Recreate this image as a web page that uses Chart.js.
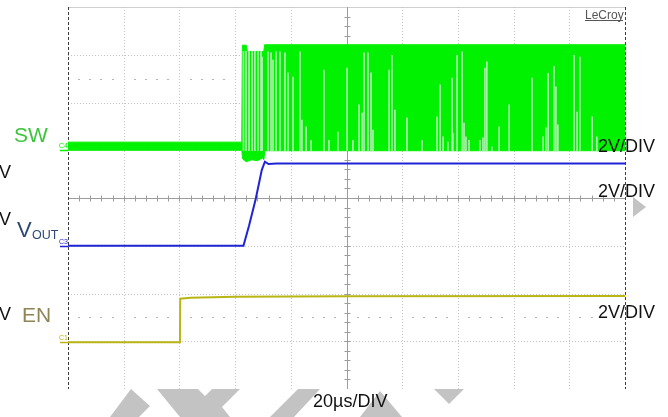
<!DOCTYPE html>
<html>
<head>
<meta charset="utf-8">
<title>SW / VOUT / EN start-up</title>
<script src="https://cdn.jsdelivr.net/npm/chart.js@4.4.0/dist/chart.umd.min.js"></script>
<style>
  html, body { margin: 0; padding: 0; background: #fff; }
  canvas { display: block; }
</style>
</head>
<body>
<canvas id="scopeChart" width="668" height="417"></canvas>
<script>
// time axis in µs (20 µs/div x 10 div), levels in screen divisions (8 div, 0 = bottom)
const timeDivLabel = "20µs/DIV";
const voltDivLabels = ["2V/DIV", "2V/DIV", "2V/DIV"];
const channelNames = ["SW", "V", "OUT", "EN"];
const channelTags = ["C4", "C3", "C1"];
const channelZero = [5.0, 3.0, 0.98];

// SW switching node: envelope of the trace
const swUpperTime = [0, 62.4, 62.6, 64.0, 64.4, 70.3, 70.6, 200];
const swUpperDiv = [5.17, 5.17, 7.2, 7.2, 7.07, 7.07, 7.21, 7.21];
const swLowerTime = [0, 62.4, 62.7, 64.0, 66.0, 68.0, 69.8, 70.3, 70.7, 200];
const swLowerDiv = [5.0, 5.0, 4.82, 4.76, 4.8, 4.78, 4.84, 4.8, 4.99, 4.99];

// lighter gaps inside the SW burst
const swStreakTime = [63.0, 63.9, 65.0, 66.1, 67.1, 68.2, 69.3, 69.7, 71.8, 72.9, 73.6, 74.7, 76.1, 77.9, 79.0,
  80.8, 83.3, 84.0, 85.5, 87.3, 91.9, 93.7, 96.9, 100.2, 102.3, 104.5, 105.6, 106.3, 107.7, 108.8, 109.5,
  115.3, 116.3, 117.4, 121.7, 127.1, 132.5, 133.6, 134.7, 136.4, 137.9, 138.2, 139.7, 141.5, 142.2, 142.9,
  144.0, 147.9, 149.0, 149.7, 150.4, 152.2, 154.8, 158.4, 166.6, 170.6, 171.6, 172.4, 174.5, 175.2, 175.9,
  181.7, 182.8, 183.8, 188.2, 189.9];
const swStreakTop = [7.07, 7.07, 7.07, 7.07, 7.07, 7.07, 7.07, 6.95, 7.06, 7.04, 6.89, 7.06, 7.06, 7.04, 6.62,
  6.53, 7.06, 5.63, 5.49, 5.21, 6.68, 5.21, 5.38, 6.72, 5.21, 5.95, 5.78, 7.04, 7.04, 6.62, 5.42,
  6.68, 6.99, 5.84, 5.68, 5.21, 5.7, 6.37, 5.28, 5.17, 6.51, 5.36, 6.99, 7.06, 5.57, 5.28,
  5.21, 5.21, 5.26, 6.72, 6.85, 5.07, 5.49, 5.95, 6.51, 5.28, 5.47, 6.61, 6.76, 6.33, 5.53,
  6.99, 5.8, 6.95, 5.7, 5.28];
const swStreakBase = 4.99;

// VOUT
const voutTime = [0, 63.0, 65.0, 67.4, 69.6, 70.7, 72.0, 75.0, 200];
const voutDiv = [3.0, 3.0, 3.42, 3.98, 4.59, 4.76, 4.71, 4.72, 4.72];

// EN
const enTime = [0, 40.2, 40.3, 44, 60, 100, 200];
const enDiv = [0.98, 0.98, 1.89, 1.91, 1.93, 1.94, 1.95];

const swColor = "rgb(0, 242, 0)";
const streakColor = "rgba(190, 240, 190, 0.9)";
const voutColor = "#1f24d6";
const enColor = "#b8b515";
const FONT = "'Liberation Sans', Arial, sans-serif";

const toPoints = (xs, ys) => xs.map((t, i) => ({ x: t, y: ys[i] }));

const scopeGrid = {
  id: "scopeGrid",
  beforeDraw(chart) {
    const { ctx } = chart;
    // grey watermark pieces below and right of the screen
    ctx.save();
    ctx.fillStyle = "#c3c3c3";
    const shapes = [
      [[131, 389], [150, 406], [139, 417], [110, 417]],
      [[157, 389], [198, 389], [205, 396], [212, 389], [240, 389], [222, 407], [230, 417], [180, 417]],
      [[298, 389], [320, 389], [294, 417], [270, 417]],
      [[380, 391], [402, 417], [360, 417]],
      [[434, 389], [464, 389], [449, 404]],
      [[633, 197], [646, 207], [633, 217]],
    ];
    shapes.forEach((s) => {
      ctx.beginPath();
      s.forEach(([px, py], i) => (i ? ctx.lineTo(px, py) : ctx.moveTo(px, py)));
      ctx.closePath();
      ctx.fill();
    });
    ctx.restore();
  },
  beforeDatasetsDraw(chart) {
    const { ctx, chartArea: a, scales: { x, y } } = chart;
    const r = (v) => Math.round(v) + 0.5;
    ctx.save();
    ctx.lineWidth = 1;
    // horizontal lines
    for (let j = 1; j <= 8; j++) {
      const py = r(y.getPixelForValue(j));
      ctx.beginPath();
      if (j === 8) {
        ctx.strokeStyle = "#cfcfcf";
        ctx.setLineDash([]);
      } else if (j === 4) {
        ctx.strokeStyle = "#9c9c9c";
        ctx.setLineDash([]);
      } else {
        ctx.strokeStyle = "#c2c2c2";
        ctx.setLineDash([1, 2]);
      }
      ctx.moveTo(a.left, py);
      ctx.lineTo(a.right, py);
      ctx.stroke();
    }
    // vertical lines
    for (let i = 0; i <= 10; i++) {
      const px = r(x.getPixelForValue(i * 20));
      ctx.beginPath();
      if (i === 0 || i === 10) {
        ctx.strokeStyle = "#3a3a3a";
        ctx.setLineDash([3, 2]);
      } else if (i === 5) {
        ctx.strokeStyle = "#9c9c9c";
        ctx.setLineDash([]);
      } else {
        ctx.strokeStyle = "#c2c2c2";
        ctx.setLineDash([1, 2]);
      }
      ctx.moveTo(px, a.top);
      ctx.lineTo(px, a.bottom);
      ctx.stroke();
    }
    ctx.setLineDash([]);
    ctx.strokeStyle = "#9c9c9c";
    // minor ticks on the centre lines
    const cy = r(y.getPixelForValue(4));
    const cx = r(x.getPixelForValue(100));
    ctx.beginPath();
    for (let k = 1; k < 50; k++) {
      const px = r(x.getPixelForValue(k * 4));
      ctx.moveTo(px, cy - 3);
      ctx.lineTo(px, cy + 3);
    }
    for (let k = 1; k < 40; k++) {
      const py = r(y.getPixelForValue(k * 0.2));
      ctx.moveTo(cx - 3, py);
      ctx.lineTo(cx + 3, py);
    }
    ctx.stroke();
    // sparse dot rows
    ctx.fillStyle = "#b4b4b4";
    [1.5, 6.5].forEach((lv) => {
      const py = Math.round(y.getPixelForValue(lv));
      for (let k = 1; k < 50; k++) {
        if (k % 5 === 0) continue;
        const px = Math.round(x.getPixelForValue(k * 4));
        ctx.fillRect(px - 1, py, 2, 1);
      }
    });
    ctx.restore();
  },
  afterDraw(chart) {
    const { ctx, chartArea: a, scales: { y } } = chart;
    ctx.save();
    ctx.textBaseline = "alphabetic";
    ctx.textAlign = "left";

    // channel markers at the left edge
    const tagColors = [swColor, voutColor, enColor];
    channelZero.forEach((lv, i) => {
      const py = Math.round(y.getPixelForValue(lv)) + 0.5;
      ctx.strokeStyle = tagColors[i];
      ctx.lineWidth = 1.5;
      ctx.beginPath();
      ctx.moveTo(a.left - 8, py);
      ctx.lineTo(a.left, py);
      ctx.stroke();
      ctx.fillStyle = tagColors[i];
      ctx.font = "7px " + FONT;
      ctx.fillText(channelTags[i], a.left - 9, py - 3);
    });

    // channel names
    ctx.fillStyle = "#3cc43c";
    ctx.font = "21px " + FONT;
    ctx.fillText(channelNames[0], 14, 142);
    ctx.fillStyle = "#2c4675";
    ctx.font = "22px " + FONT;
    ctx.fillText(channelNames[1], 17, 237);
    ctx.font = "12.5px " + FONT;
    ctx.fillText(channelNames[2], 32, 238.5);
    ctx.fillStyle = "#8e8456";
    ctx.font = "21px " + FONT;
    ctx.fillText(channelNames[3], 22, 322);

    // cut-off scale text on the left
    ctx.fillStyle = "#111";
    ctx.font = "18px " + FONT;
    [178, 225, 320].forEach((by) => ctx.fillText("V", -1, by));

    // volts per division on the right
    [152, 197, 318].forEach((by, i) => ctx.fillText(voltDivLabels[i], 598, by));

    // time per division
    ctx.fillText(timeDivLabel, 313, 407);

    // brand
    ctx.fillStyle = "#555";
    ctx.font = "12px " + FONT;
    ctx.fillText("LeCroy", 585, 19);
    ctx.fillRect(585, 20, 38, 1);
    ctx.restore();
  },
};

const chart = new Chart(document.getElementById("scopeChart"), {
  type: "line",
  data: {
    datasets: [
      {
        label: "VOUT",
        data: toPoints(voutTime, voutDiv),
        borderColor: voutColor,
        borderWidth: 2,
        pointRadius: 0,
        tension: 0,
        fill: false,
      },
      {
        label: "EN",
        data: toPoints(enTime, enDiv),
        borderColor: enColor,
        borderWidth: 2,
        pointRadius: 0,
        tension: 0,
        fill: false,
      },
      {
        type: "bar",
        label: "SW gaps",
        data: swStreakTime.map((t, i) => ({ x: t, y: [swStreakBase, swStreakTop[i]] })),
        backgroundColor: streakColor,
        borderWidth: 0,
        barThickness: 1,
      },
      {
        label: "SW high",
        data: toPoints(swUpperTime, swUpperDiv),
        borderColor: swColor,
        borderWidth: 1,
        pointRadius: 0,
        tension: 0,
        fill: false,
      },
      {
        label: "SW low",
        data: toPoints(swLowerTime, swLowerDiv),
        borderColor: swColor,
        backgroundColor: swColor,
        borderWidth: 1,
        pointRadius: 0,
        tension: 0,
        fill: "-1",
      },
    ],
  },
  options: {
    responsive: false,
    animation: false,
    events: [],
    layout: { padding: { left: 68, right: 43, top: 7, bottom: 28 } },
    scales: {
      x: { type: "linear", min: 0, max: 200, offset: false, display: false },
      y: { type: "linear", min: 0, max: 8, display: false },
    },
    plugins: {
      legend: { display: false },
      tooltip: { enabled: false },
    },
  },
  plugins: [scopeGrid],
});
</script>
</body>
</html>
